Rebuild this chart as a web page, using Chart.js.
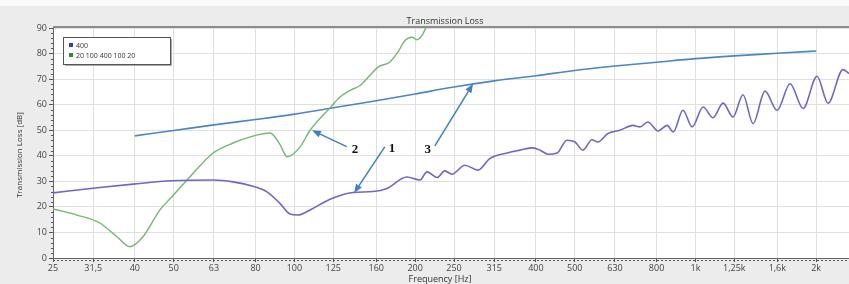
<!DOCTYPE html>
<html><head><meta charset="utf-8">
<script src="https://cdn.jsdelivr.net/npm/chart.js@4/dist/chart.umd.min.js"></script>
<style>html,body{margin:0;padding:0;background:#ececec}canvas{display:block}</style>
</head><body>
<canvas id="chart" width="849" height="284"></canvas>
<script>
// third-octave tick marks on the frequency axis
const freqTicks = [25,31.5,40,50,63,80,100,125,160,200,250,315,400,500,630,800,1000,1250,1600,2000];
const tickLabels = ['25','31,5','40','50','63','80','100','125','160','200','250','315','400','500','630','800','1k','1,25k','1,6k','2k'];

// curve 1 (purple, "400")
const curve1Freq = [25,32.7,39.6,49.5,62.6,70.3,78.8,85.4,92,97.5,102,110,122.7,140,157,170,190.8,205.7,214,227,237,247,266,287,307,339,365,393,410,429,452,478,501,524,552,571,605,648,699,727,761,807,850,880,931,981,1045,1106,1172,1241,1314,1392,1491,1598,1722,1855,2010,2141,2333,2415];
const curve1TL   = [25.5,27.6,28.9,30.2,30.5,29.8,28.1,25.9,21.4,17.2,16.8,19,23,25.6,26,27.2,31.7,30.5,33.7,31.5,34.1,32.8,36.3,34.4,38.9,41.1,42.2,43.1,42.2,40.6,41.1,46.1,45.4,42.2,46.3,45.4,48.7,50,51.9,51.3,53.2,49.7,51.9,49.3,57.8,51.3,59.1,54.9,60.6,55.2,63.9,52.6,65.3,57.8,68.2,58.5,71.1,60.6,73.7,72.2];

// curve 2 (green, "20 100 400 100 20")
const curve2Freq = [25,28.7,32.7,36.1,38.9,41.9,46.2,49.5,54.9,62.6,70.3,78.8,86.9,92,95.9,103.3,109.4,122.7,129.9,137.6,145.8,154.3,161.6,173,181.2,188.7,196.5,202,208,214,220];
const curve2TL   = [19.2,16.8,13.7,8.3,4.4,8.3,18.8,24,31.8,41,45,47.7,48.9,44.5,39.6,43.5,50,58.8,63,65.6,67.5,71.5,74.7,76.7,80.6,85.1,86.4,85.4,87.1,91,95];

// curve 3 (steel blue reference line)
const curve3Freq = [40,50,63,80,100,125,160,200,250,315,400,500,630,800,1000,1250,1600,2000];
const curve3TL   = [47.8,49.9,52.1,54.2,56.3,58.8,61.5,64.2,66.9,69.3,71.3,73.4,75.1,76.6,78.0,79.1,80.1,81.0];

// numbered callouts: label position and arrow tail/head in (Hz, dB)
const callouts = [
  { text:'2', at:[141.6,42.4], from:[135,43.6], to:[110.6,50] },
  { text:'1', at:[175,42.8],   from:[168,43.5], to:[140.8,25.4] },
  { text:'3', at:[215,42.4],   from:[224,43.9], to:[279,68.2] }
];

const pts = (fs, vs) => fs.map((f,i)=>({x:f, y:vs[i]}));

const frame = {
  id:'frame',
  beforeDraw(chart){
    const {ctx, chartArea:a, width, height} = chart;
    ctx.save();
    ctx.fillStyle = '#ececec'; ctx.fillRect(0,0,width,height);
    ctx.fillStyle = '#fbfbfb'; ctx.fillRect(0,0,width,6);
    ctx.fillStyle = '#ffffff'; ctx.fillRect(a.left,a.top,a.right-a.left,a.bottom-a.top);
    ctx.restore();
  },
  afterDraw(chart){
    const {ctx, chartArea:a, scales:{x,y}} = chart;
    ctx.save();
    // top border of plot
    ctx.strokeStyle = '#8c8c8c'; ctx.lineWidth = 2;
    ctx.beginPath(); ctx.moveTo(a.left, a.top-1); ctx.lineTo(a.right, a.top-1); ctx.stroke();
    // minor ticks on y axis
    ctx.strokeStyle = '#555'; ctx.lineWidth = 1;
    for(let v=0; v<=90; v+=2){
      if(v%10===0) continue;
      const py = Math.round(y.getPixelForValue(v))+0.5;
      ctx.beginPath(); ctx.moveTo(a.left-2, py); ctx.lineTo(a.left, py); ctx.stroke();
    }
    // dotted line under the x axis
    ctx.setLineDash([2,2]);
    ctx.beginPath(); ctx.moveTo(a.left, a.bottom+2.5); ctx.lineTo(a.right, a.bottom+2.5); ctx.stroke();
    ctx.setLineDash([]);
    // titles
    ctx.fillStyle = '#333';
    ctx.textAlign = 'center'; ctx.textBaseline = 'middle';
    ctx.font = '9px "Open Sans"';
    ctx.fillText('Transmission Loss', 445, 21);
    ctx.fillText('Frequency [Hz]', 440, 279);
    ctx.save();
    ctx.translate(20, 155); ctx.rotate(-Math.PI/2);
    ctx.font = '8px "Open Sans"';
    ctx.fillText('Transmission Loss [dB]', 0, 0);
    ctx.restore();
    // legend box
    const lx = a.left+10, ly = a.top+9, lw = 107, lh = 27;
    ctx.fillStyle = '#fff'; ctx.fillRect(lx,ly,lw,lh);
    ctx.strokeStyle = '#555'; ctx.lineWidth = 1;
    ctx.strokeRect(lx+0.5, ly+0.5, lw, lh);
    ctx.strokeStyle = '#aaa';
    ctx.beginPath(); ctx.moveTo(lx+lw+1.5, ly+2); ctx.lineTo(lx+lw+1.5, ly+lh+1.5); ctx.lineTo(lx+2, ly+lh+1.5); ctx.stroke();
    const items = chart.data.datasets.filter(d=>d.legendColor);
    ctx.font = '7px "Open Sans"'; ctx.textAlign = 'left';
    items.forEach((d,i)=>{
      const iy = ly + 8 + i*10;
      ctx.fillStyle = d.legendColor; ctx.fillRect(lx+6, iy-2, 4, 4);
      ctx.fillStyle = '#333'; ctx.fillText(d.label, lx+13, iy+0.5);
    });
    ctx.restore();
  },
  afterDatasetsDraw(chart){
    const {ctx, scales:{x,y}} = chart;
    ctx.save();
    ctx.strokeStyle = '#3f7fc4'; ctx.fillStyle = '#3f7fc4'; ctx.lineWidth = 1.5;
    for(const c of callouts){
      const x0 = x.getPixelForValue(c.from[0]), y0 = y.getPixelForValue(c.from[1]);
      const x1 = x.getPixelForValue(c.to[0]),   y1 = y.getPixelForValue(c.to[1]);
      const ang = Math.atan2(y1-y0, x1-x0), hl = 9, hw = 3.5;
      const bx = x1 - hl*Math.cos(ang), by = y1 - hl*Math.sin(ang);
      ctx.beginPath(); ctx.moveTo(x0,y0); ctx.lineTo(bx,by); ctx.stroke();
      ctx.beginPath();
      ctx.moveTo(x1,y1);
      ctx.lineTo(bx + hw*Math.sin(ang), by - hw*Math.cos(ang));
      ctx.lineTo(bx - hw*Math.sin(ang), by + hw*Math.cos(ang));
      ctx.closePath(); ctx.fill();
    }
    ctx.fillStyle = '#111';
    ctx.font = 'bold 13px "Liberation Serif"';
    ctx.textAlign = 'center'; ctx.textBaseline = 'middle';
    for(const c of callouts){
      ctx.fillText(c.text, x.getPixelForValue(c.at[0]), y.getPixelForValue(c.at[1]));
    }
    ctx.restore();
  }
};

new Chart(document.getElementById('chart'), {
  type:'line',
  data:{
    datasets:[
      { label:'400', data:pts(curve1Freq, curve1TL), borderColor:'#6f66cc', borderWidth:1.6, legendColor:'#2b3fd6' },
      { label:'20 100 400 100 20', data:pts(curve2Freq, curve2TL), borderColor:'#72b86e', borderWidth:1.4, legendColor:'#2e8b2e' },
      { label:'3', data:pts(curve3Freq, curve3TL), borderColor:'#4a86c6', borderWidth:1.6 }
    ]
  },
  options:{
    responsive:false,
    animation:false,
    devicePixelRatio:1,
    layout:{ padding:{ top:28, left:0, right:0, bottom:0 } },
    elements:{ point:{ radius:0 }, line:{ tension:0.4, cubicInterpolationMode:'monotone' } },
    plugins:{ legend:{ display:false }, tooltip:{ enabled:false }, title:{ display:false } },
    scales:{
      x:{
        type:'logarithmic', min:25, max:2415,
        afterBuildTicks(s){ s.ticks = freqTicks.map(v=>({ value:v })); },
        afterFit(s){ s.height = 26; },
        ticks:{ autoSkip:false, maxRotation:0, padding:1, color:'#444', font:{ size:9, family:'"Open Sans"' },
          callback:(v,i)=>tickLabels[i] },
        grid:{ color:'#e0e0e0', tickLength:4, tickColor:'#555' },
        border:{ color:'#666' }
      },
      y:{
        min:0, max:90,
        afterFit(s){ s.width = 53; },
        ticks:{ stepSize:10, padding:2, color:'#444', font:{ size:9, family:'"Open Sans"' } },
        grid:{ color:'#e0e0e0', tickLength:4, tickColor:'#555' },
        border:{ color:'#666' }
      }
    }
  },
  plugins:[frame]
});
</script>
</body></html>
